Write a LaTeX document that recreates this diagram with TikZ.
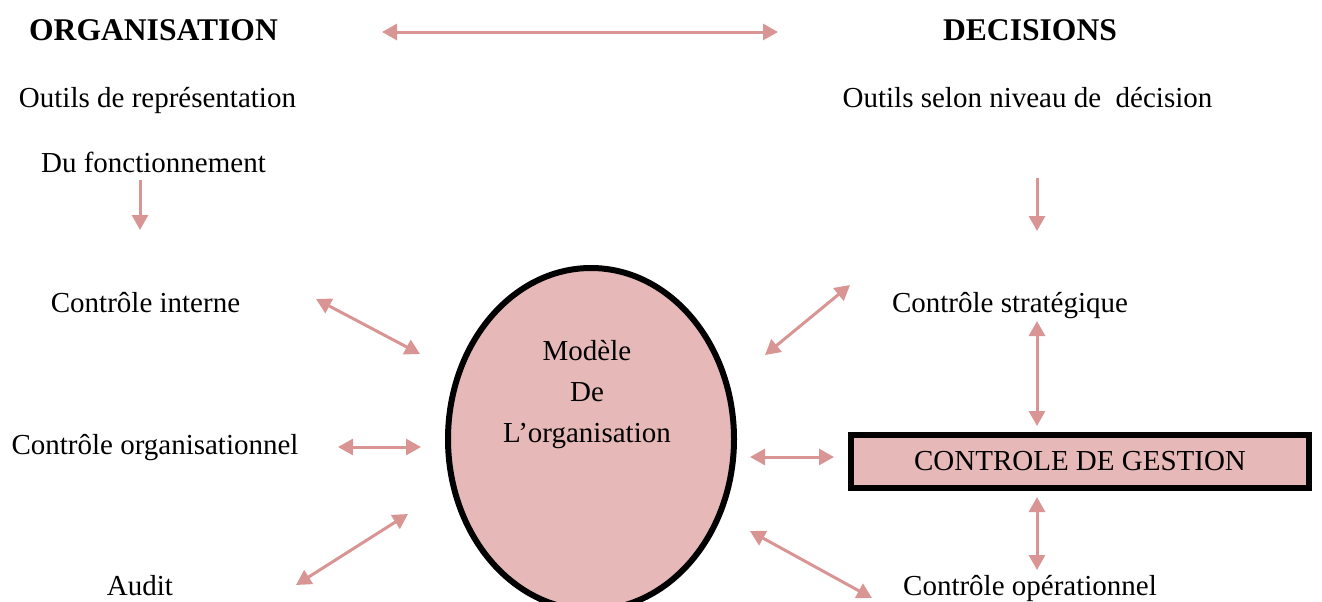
\documentclass[tikz,border=0pt]{standalone}
\usepackage{fontspec}
\setmainfont{Liberation Serif}
\usetikzlibrary{arrows.meta, positioning, shapes.geometric}
\definecolor{arrowpink}{RGB}{217,149,148}
\definecolor{modelpink}{RGB}{230,184,183}

\begin{document}
\begin{tikzpicture}[x=0.5pt, y=-0.5pt,
  txt/.style={font=\fontsize{14.5}{17}\selectfont, inner sep=0pt, anchor=base},
  titre/.style={font=\fontsize{15.8}{18}\selectfont\bfseries, inner sep=0pt, anchor=base},
  arr/.style={{Triangle[length=7.5pt,width=8pt]}-{Triangle[length=7.5pt,width=8pt]}, line width=1.5pt, arrowpink},
  descend/.style={-{Triangle[length=7.5pt,width=8pt]}, line width=1.5pt, arrowpink}
]
  \useasboundingbox (0,0) rectangle (1322,601);

  % Titles
  \node[titre] (orga) at (153.5,40) {ORGANISATION};
  \node[titre] (deci) at (1030,40) {DECISIONS};

  \node[txt] (outrep) at (157.5,107) {Outils de représentation};
  \node[txt] (fonct) at (153.5,172) {Du fonctionnement};
  \node[txt] (outniv) at (1027.5,107) {Outils selon niveau de \ décision};

  \node[txt] (interne) at (145.5,312) {Contrôle interne};
  \node[txt] (orgctl) at (155,454) {Contrôle organisationnel};
  \node[txt] (audit) at (140,595) {Audit};
  \node[txt] (strat) at (1010,312) {Contrôle stratégique};
  \node[txt] (oper) at (1030,595) {Contrôle opérationnel};

  % Model of the organisation
  \node[ellipse, draw, line width=3pt, fill=modelpink, minimum width=143pt, minimum height=171pt] (modele) at (591,439) {};
  \node[font=\fontsize{14.5}{20.5}\selectfont, align=center, inner sep=0pt] (modtxt) at (587,395) {Modèle\\De\\L’organisation};

  \node[draw, line width=3pt, fill=modelpink, minimum width=229pt, minimum height=26.5pt, inner sep=0pt,
    font=\fontsize{14.5}{17}\selectfont] (gestion) at (1080,461.5) {CONTROLE DE GESTION};

  % arrow ends
  \coordinate (hautG) at (382,32);   \coordinate (hautD) at (778,32);
  \coordinate (fonctA) at (140,180); \coordinate (fonctB) at (140,230);
  \coordinate (nivA) at (1037,178);  \coordinate (nivB) at (1037,231);
  \coordinate (intA) at (316,299);   \coordinate (intB) at (420,354);
  \coordinate (orgA) at (338,447);   \coordinate (orgB) at (421,447);
  \coordinate (audA) at (296,585);   \coordinate (audB) at (408,514);
  \coordinate (strA) at (765,355);   \coordinate (strB) at (850,285);
  \coordinate (gesA) at (750,457);   \coordinate (gesB) at (834,457);
  \coordinate (opeA) at (750,531);   \coordinate (opeB) at (872,598);
  \coordinate (sgA) at (1037,321);   \coordinate (sgB) at (1037,426);
  \coordinate (goA) at (1037,497);   \coordinate (goB) at (1037,570);

  \draw[arr] (hautG) -- (hautD);
  \draw[descend] (fonctA) -- (fonctB);
  \draw[descend] (nivA) -- (nivB);
  \draw[arr] (intA) -- (intB);
  \draw[arr] (orgA) -- (orgB);
  \draw[arr] (audA) -- (audB);
  \draw[arr] (strA) -- (strB);
  \draw[arr] (gesA) -- (gesB);
  \draw[arr] (opeA) -- (opeB);
  \draw[arr] (sgA) -- (sgB);
  \draw[arr] (goA) -- (goB);
\end{tikzpicture}
\end{document}
